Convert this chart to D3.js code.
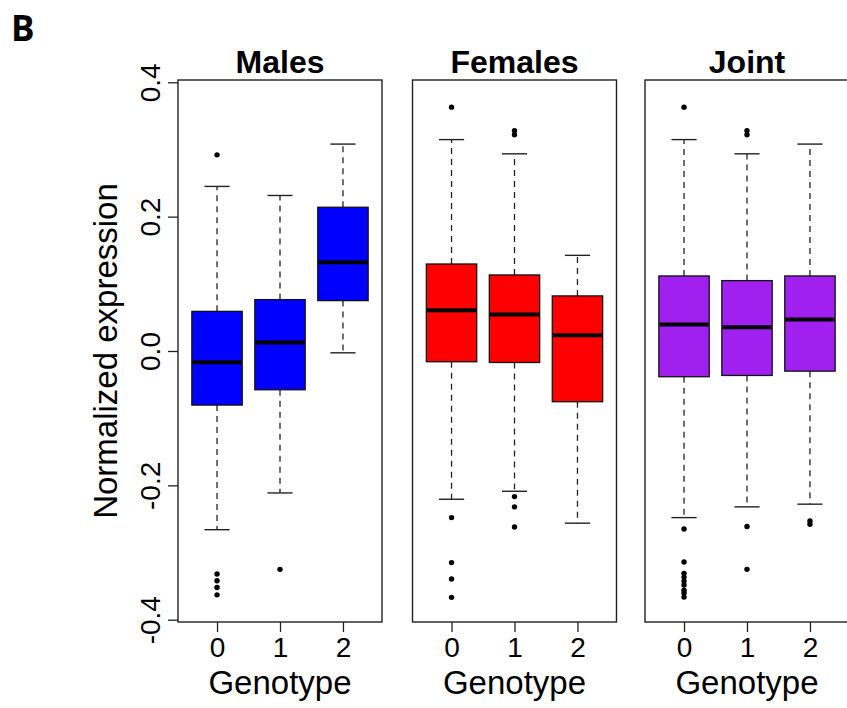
<!DOCTYPE html>
<html>
<head>
<meta charset="utf-8">
<script src="https://cdn.jsdelivr.net/npm/d3@7"></script>
<style>
	body { margin: 0; background: #fff; }
	svg { display: block; font-family: "Liberation Sans", Arial, Helvetica, sans-serif; }
</style>
</head>
<body>
<script>
// Panel names and the genotype groups
const panels = ["Males", "Females", "Joint"];
const genotypes = ["0", "1", "2"];
const fills = ["#0000ff", "#ff0000", "#a020f0"];

// Box stats per group: [lower whisker, Q1, median, Q3, upper whisker]
const malesStats = [
	[-0.266, -0.0805, -0.0166, 0.059, 0.245],
	[-0.2113, -0.0577, 0.0126, 0.0765, 0.2315],
	[-0.0027, 0.075, 0.132, 0.214, 0.308]
];
const femalesStats = [
	[-0.2207, -0.016, 0.0607, 0.1295, 0.3147],
	[-0.2088, -0.0171, 0.0542, 0.1132, 0.2935],
	[-0.2563, -0.0755, 0.0235, 0.082, 0.1424]
];
const jointStats = [
	[-0.248, -0.0383, 0.0394, 0.1117, 0.3147],
	[-0.232, -0.0364, 0.0354, 0.1048, 0.2935],
	[-0.228, -0.030, 0.0468, 0.1117, 0.308]
];

// Outliers per group
const malesOutliers = [
	[0.292, -0.332, -0.342, -0.352, -0.363],
	[-0.325],
	[]
];
const femalesOutliers = [
	[0.363, -0.248, -0.315, -0.3395, -0.3667],
	[0.328, 0.322, -0.2167, -0.232, -0.262],
	[]
];
const jointOutliers = [
	[0.363, -0.265, -0.314, -0.331, -0.3366, -0.3425, -0.3484, -0.356, -0.3603, -0.3663],
	[0.328, 0.322, -0.2613, -0.325],
	[-0.253, -0.258]
];

// y tick values
const yTicks = [-0.4, -0.2, 0.0, 0.2, 0.4];

const allStats = [malesStats, femalesStats, jointStats];
const allOutliers = [malesOutliers, femalesOutliers, jointOutliers];

const w = 847;
const h = 708;
const plotTop = 80, plotBottom = 622; // plot frame
const panelW = 204;
const panelLefts = [178, 412.5, 645];

const svg = d3.select("body").append("svg").attr("width", w).attr("height", h);
svg.append("rect").attr("width", w).attr("height", h).attr("fill", "#fff");

// Shared y scale (R pads the range by 4%)
const yScale = d3.scaleLinear().domain([-0.4034, 0.4034]).range([plotBottom, plotTop]);

// Panel label
svg.append("text")
	.attr("x", 11)
	.attr("y", 41)
	.attr("font-family", "'Open Sans', sans-serif")
	.attr("font-weight", "bold")
	.attr("font-size", 35)
	.text("B");

panels.forEach((name, p) => {
	const left = panelLefts[p];
	const xScale = d3.scaleLinear().domain([0.38, 3.62]).range([left, left + panelW]);
	const unit = xScale(1) - xScale(0);
	const g = svg.append("g");
	const stats = allStats[p];

	// whiskers (dashed)
	stats.forEach((s, i) => {
		const cx = xScale(i + 1);
		[[s[3], s[4]], [s[1], s[0]]].forEach(([a, b]) => {
			g.append("line")
				.attr("x1", cx).attr("x2", cx)
				.attr("y1", yScale(a)).attr("y2", yScale(b))
				.attr("stroke", "#222")
				.attr("stroke-width", 1.3)
				.attr("stroke-dasharray", "6,5");
		});
		// caps
		[s[0], s[4]].forEach((v) => {
			g.append("line")
				.attr("x1", cx - unit * 0.2).attr("x2", cx + unit * 0.2)
				.attr("y1", yScale(v)).attr("y2", yScale(v))
				.attr("stroke", "#222")
				.attr("stroke-width", 1.4);
		});
	});

	// boxes
	g.selectAll("rect.box")
		.data(stats)
		.enter()
		.append("rect")
		.attr("class", "box")
		.attr("x", (d, i) => xScale(i + 1) - unit * 0.4)
		.attr("width", unit * 0.8)
		.attr("y", (d) => yScale(d[3]))
		.attr("height", (d) => yScale(d[1]) - yScale(d[3]))
		.attr("fill", fills[p])
		.attr("stroke", "#111")
		.attr("stroke-width", 1.3);

	// medians
	g.selectAll("line.median")
		.data(stats)
		.enter()
		.append("line")
		.attr("class", "median")
		.attr("x1", (d, i) => xScale(i + 1) - unit * 0.4 + 0.7)
		.attr("x2", (d, i) => xScale(i + 1) + unit * 0.4 - 0.7)
		.attr("y1", (d) => yScale(d[2]))
		.attr("y2", (d) => yScale(d[2]))
		.attr("stroke", "#000")
		.attr("stroke-width", 4);

	// outliers
	allOutliers[p].forEach((pts, i) => {
		g.selectAll(null)
			.data(pts)
			.enter()
			.append("circle")
			.attr("cx", xScale(i + 1))
			.attr("cy", (d) => yScale(d))
			.attr("r", 2.7)
			.attr("fill", "#000");
	});

	// frame
	g.append("rect")
		.attr("x", left)
		.attr("y", plotTop)
		.attr("width", panelW)
		.attr("height", plotBottom - plotTop)
		.attr("fill", "none")
		.attr("stroke", "#222")
		.attr("stroke-width", 1.4);

	// x axis
	const xAxis = d3.axisBottom(xScale)
		.tickValues([1, 2, 3])
		.tickFormat((d, i) => genotypes[i])
		.tickSize(10);
	const xg = svg.append("g")
		.attr("transform", `translate(0, ${plotBottom})`)
		.call(xAxis);
	xg.select(".domain").remove();
	xg.selectAll(".tick line").attr("stroke", "#222").attr("stroke-width", 1.3);
	xg.selectAll(".tick text")
		.attr("y", 15)
		.attr("font-size", 28)
		.attr("font-family", "'Liberation Sans', Arial, sans-serif")
		.attr("fill", "#000");

	// x label
	svg.append("text")
		.attr("x", left + panelW / 2)
		.attr("y", 694)
		.attr("text-anchor", "middle")
		.attr("font-size", 33)
		.text("Genotype");

	// title
	svg.append("text")
		.attr("x", left + panelW / 2)
		.attr("y", 73)
		.attr("text-anchor", "middle")
		.attr("font-weight", "bold")
		.attr("font-size", 32)
		.text(name);
});

// y axis on the first panel only
const yAxis = d3.axisLeft(yScale)
	.tickValues(yTicks)
	.tickFormat((d) => d.toFixed(1))
	.tickSize(10);
const yg = svg.append("g")
	.attr("transform", `translate(${panelLefts[0]}, 0)`)
	.call(yAxis);
yg.select(".domain").remove();
yg.selectAll(".tick line").attr("stroke", "#222").attr("stroke-width", 1.3);
yg.selectAll(".tick text")
	.attr("x", null)
	.attr("dy", null)
	.attr("transform", "translate(-18, 0) rotate(-90)")
	.attr("text-anchor", "middle")
	.attr("font-size", 28)
	.attr("font-family", "'Liberation Sans', Arial, sans-serif")
	.attr("fill", "#000");

// y label
svg.append("text")
	.attr("transform", `translate(117, ${(plotTop + plotBottom) / 2}) rotate(-90)`)
	.attr("text-anchor", "middle")
	.attr("font-size", 33)
	.text("Normalized expression");
</script>
</body>
</html>
